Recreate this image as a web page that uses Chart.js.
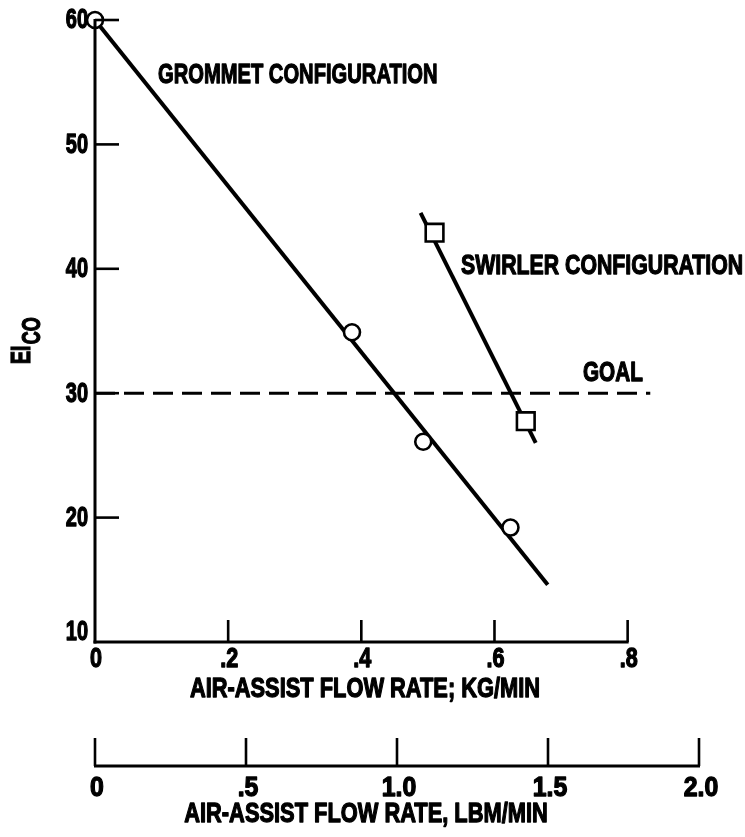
<!DOCTYPE html>
<html>
<head>
<meta charset="utf-8">
<script src="https://cdn.jsdelivr.net/npm/chart.js@4/dist/chart.umd.min.js"></script>
<style>
  html, body { margin: 0; padding: 0; background: #ffffff; }
  canvas { display: block; }
</style>
</head>
<body>
<canvas id="chart" width="745" height="837"></canvas>
<script>
// Grommet configuration: measured points (air-assist flow, kg/min ; EI_CO)
const grommetFlow = [0.0, 0.386, 0.493, 0.624];
const grommetEI = [60.0, 34.9, 26.1, 19.2];
// Grommet faired line (end points)
const grommetFitFlow = [0.0, 0.68];
const grommetFitEI = [60.0, 14.6];

// Swirler configuration: measured points and faired line
const swirlerFlow = [0.51, 0.647];
const swirlerEI = [42.9, 27.75];
const swirlerFitFlow = [0.489, 0.662];
const swirlerFitEI = [44.5, 26.0];

// Goal level
const goalFlow = [0.0, 0.834];
const goalEI = [30, 30];

// Axis ticks and their labels
const kgTicks = [0, 0.2, 0.4, 0.6, 0.8];
const kgTickLabels = ['0', '.2', '.4', '.6', '.8'];
const lbmTicks = [0, 0.5, 1.0, 1.5, 2.0];
const lbmTickLabels = ['0', '.5', '1.0', '1.5', '2.0'];
const eiTicks = [10, 20, 30, 40, 50, 60];
const eiTickLabels = ['10', '20', '30', '40', '50', '60'];

const LBM_PER_KG = 2.20462;

const FONT_FAMILY = '"Liberation Sans", Arial, sans-serif';
const INK = '#000000';
const CONDENSE = 0.72;   // horizontal squeeze for the narrow lettering

function pts(xs, ys) {
  return xs.map((x, i) => ({ x: x, y: ys[i] }));
}

function fixedTicks(values) {
  return function (scale) {
    scale.ticks = values.map(v => ({ value: v }));
  };
}

// narrow, heavy lettering
function letter(ctx, text, x, y, size, align, sx) {
  const k = sx || CONDENSE;
  ctx.save();
  ctx.font = 'bold ' + size + 'px ' + FONT_FAMILY;
  ctx.textBaseline = 'middle';
  ctx.textAlign = align || 'left';
  ctx.translate(x, y);
  ctx.scale(k, 1);
  ctx.lineWidth = 1.3;
  ctx.lineJoin = 'round';
  ctx.fillText(text, 0, 0);
  ctx.strokeText(text, 0, 0);
  ctx.restore();
}

// Axes with inward tick marks, tick labels, axis titles and curve labels
const paperAxes = {
  id: 'paperAxes',
  afterDatasetsDraw(chart) {
    const ctx = chart.ctx;
    const xs = chart.scales.x;
    const x2 = chart.scales.x2;
    const ys = chart.scales.y;
    ctx.save();
    ctx.strokeStyle = INK;
    ctx.fillStyle = INK;
    ctx.lineCap = 'butt';

    // EI_CO axis
    const yx = xs.getPixelForValue(0);
    ctx.lineWidth = 3;
    ctx.beginPath();
    ctx.moveTo(yx, ys.getPixelForValue(eiTicks[eiTicks.length - 1]) - 1);
    ctx.lineTo(yx, ys.getPixelForValue(eiTicks[0]) + 1.5);
    ctx.stroke();
    ctx.lineWidth = 2.6;
    eiTicks.slice(1).forEach(v => {
      const py = ys.getPixelForValue(v);
      ctx.beginPath();
      ctx.moveTo(yx, py);
      ctx.lineTo(yx + 24, py);
      ctx.stroke();
    });
    ys.ticks.forEach((t, i) => {
      // the bottom label sits just above the kg/min axis line
      const lift = i === 0 ? -9 : 1;
      letter(ctx, eiTickLabels[i], yx - 7, ys.getPixelForValue(t.value) + lift, 27, 'right', 0.74);
    });

    // kg/min axis
    const by = ys.getPixelForValue(eiTicks[0]);
    ctx.lineWidth = 3.2;
    ctx.beginPath();
    ctx.moveTo(yx - 1.5, by);
    ctx.lineTo(xs.getPixelForValue(kgTicks[kgTicks.length - 1]) + 1, by);
    ctx.stroke();
    ctx.lineWidth = 2.6;
    kgTicks.slice(1).forEach(v => {
      const px = xs.getPixelForValue(v);
      ctx.beginPath();
      ctx.moveTo(px, by);
      ctx.lineTo(px, by - 22);
      ctx.stroke();
    });
    xs.ticks.forEach((t, i) => {
      letter(ctx, kgTickLabels[i], xs.getPixelForValue(t.value) + 1, by + 18, 27, 'center', 0.8);
    });

    // lbm/min axis
    const ly = x2.top;
    ctx.lineWidth = 3;
    ctx.beginPath();
    ctx.moveTo(x2.getPixelForValue(lbmTicks[0]) - 1, ly);
    ctx.lineTo(x2.getPixelForValue(lbmTicks[lbmTicks.length - 1]) + 1, ly);
    ctx.stroke();
    ctx.lineWidth = 2.6;
    lbmTicks.forEach(v => {
      const px = x2.getPixelForValue(v);
      ctx.beginPath();
      ctx.moveTo(px, ly);
      ctx.lineTo(px, ly - 28);
      ctx.stroke();
    });
    x2.ticks.forEach((t, i) => {
      letter(ctx, lbmTickLabels[i], x2.getPixelForValue(t.value) + 2, ly + 23, 27, 'center', 0.92);
    });

    // axis titles
    letter(ctx, 'AIR-ASSIST FLOW RATE; KG/MIN', 365, by + 47, 28, 'center', 0.78);
    letter(ctx, 'AIR-ASSIST FLOW RATE, LBM/MIN', 366, ly + 48, 28, 'center', 0.78);

    // curve labels
    letter(ctx, 'GROMMET CONFIGURATION', 158, 75, 28, 'left');
    letter(ctx, 'SWIRLER CONFIGURATION', 461, 266, 28, 'left', 0.76);
    letter(ctx, 'GOAL', 583, 373, 28, 'left', 0.74);

    // EI with subscript CO, rotated
    ctx.save();
    ctx.translate(30, 364);
    ctx.rotate(-Math.PI / 2);
    ctx.scale(0.72, 1);
    ctx.textAlign = 'left';
    ctx.textBaseline = 'alphabetic';
    ctx.lineWidth = 1.2;
    ctx.font = 'bold 27px ' + FONT_FAMILY;
    ctx.fillText('EI', 0, 0);
    ctx.strokeText('EI', 0, 0);
    const w = ctx.measureText('EI').width;
    ctx.font = 'bold 25px ' + FONT_FAMILY;
    ctx.fillText('CO', w + 2, 10);
    ctx.strokeText('CO', w + 2, 10);
    ctx.restore();

    ctx.restore();
  }
};

new Chart(document.getElementById('chart'), {
  type: 'scatter',
  data: {
    datasets: [
      {
        label: 'Grommet configuration',
        data: pts(grommetFlow, grommetEI),
        showLine: false,
        pointStyle: 'circle',
        pointRadius: 8,
        pointBorderWidth: 2.6,
        pointBackgroundColor: '#ffffff',
        pointBorderColor: INK,
        order: 0,
        clip: false
      },
      {
        label: 'Swirler configuration',
        data: pts(swirlerFlow, swirlerEI),
        showLine: false,
        pointStyle: 'rect',
        pointRadius: 12.5,
        pointBorderWidth: 2.6,
        pointBackgroundColor: '#ffffff',
        pointBorderColor: INK,
        order: 0,
        clip: false
      },
      {
        label: 'Grommet faired line',
        data: pts(grommetFitFlow, grommetFitEI),
        showLine: true,
        borderColor: INK,
        borderWidth: 4,
        pointRadius: 0,
        order: 1,
        clip: false
      },
      {
        label: 'Swirler faired line',
        data: pts(swirlerFitFlow, swirlerFitEI),
        showLine: true,
        borderColor: INK,
        borderWidth: 4,
        pointRadius: 0,
        order: 1,
        clip: false
      },
      {
        label: 'Goal',
        data: pts(goalFlow, goalEI),
        showLine: true,
        borderColor: INK,
        borderWidth: 3,
        borderDash: [20, 9],
        pointRadius: 0,
        order: 2,
        clip: false
      }
    ]
  },
  options: {
    responsive: false,
    animation: false,
    devicePixelRatio: 1,
    layout: { padding: { top: 20, right: 46, left: 0, bottom: 0 } },
    plugins: {
      legend: { display: false },
      tooltip: { enabled: false },
      title: { display: false }
    },
    scales: {
      x: {
        type: 'linear',
        position: 'bottom',
        weight: 0,
        min: 0,
        max: lbmTicks[lbmTicks.length - 1] / LBM_PER_KG,
        afterBuildTicks: fixedTicks(kgTicks),
        afterFit(s) { s.height = 124; },
        grid: { display: false, drawTicks: false },
        border: { display: false },
        ticks: { display: false }
      },
      x2: {
        type: 'linear',
        axis: 'x',
        position: 'bottom',
        weight: 1,
        min: 0,
        max: lbmTicks[lbmTicks.length - 1],
        afterBuildTicks: fixedTicks(lbmTicks),
        afterFit(s) { s.height = 71; },
        grid: { display: false, drawTicks: false },
        border: { display: false },
        ticks: { display: false }
      },
      y: {
        type: 'linear',
        position: 'left',
        min: eiTicks[0],
        max: eiTicks[eiTicks.length - 1],
        afterBuildTicks: fixedTicks(eiTicks),
        afterFit(s) { s.width = 95; },
        grid: { display: false, drawTicks: false },
        border: { display: false },
        ticks: { display: false }
      }
    }
  },
  plugins: [paperAxes]
});
</script>
</body>
</html>
